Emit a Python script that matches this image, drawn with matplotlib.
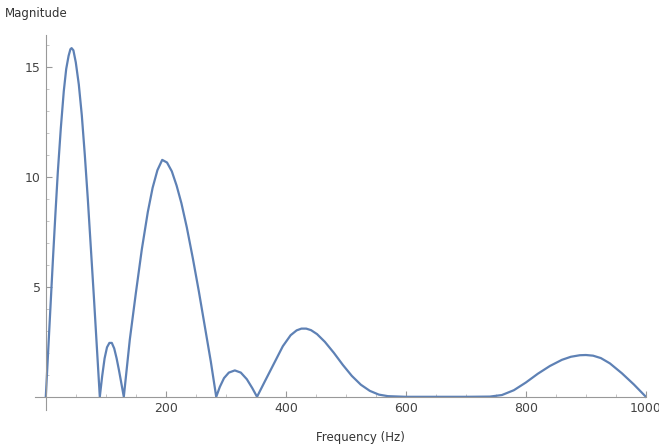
import matplotlib.pyplot as plt

# Magnitude spectrum, values
freq = [0, 4, 8, 12, 16, 20, 25, 30, 34, 38, 41, 43, 46, 50, 55, 60, 65, 70, 75, 80, 85, 90,
        94, 98, 102, 106, 110, 114, 118, 122, 126, 130,
        140, 150, 160, 170, 178, 186, 194, 202, 210, 218, 226, 235, 245, 255, 265, 275, 284,
        290, 297, 305, 315, 325, 335, 344, 352,
        365, 380, 395, 408, 418, 426, 434, 442, 452, 465, 480, 495, 510, 525, 540, 555, 570,
        600, 650, 700, 740,
        760, 780, 800, 820, 840, 860, 875, 890, 900, 912, 925, 940, 960, 980, 1000]
magnitude = [0, 2.1, 4.2, 6.3, 8.3, 10.2, 12.2, 13.9, 14.9, 15.5, 15.8, 15.85, 15.75, 15.2, 14.2, 12.8, 11.0, 9.0, 6.8, 4.6, 2.3, 0,
             0.95, 1.75, 2.25, 2.45, 2.45, 2.2, 1.75, 1.2, 0.6, 0,
             2.6, 4.7, 6.7, 8.4, 9.5, 10.3, 10.77, 10.65, 10.25, 9.6, 8.8, 7.7, 6.3, 4.8, 3.2, 1.6, 0,
             0.45, 0.85, 1.1, 1.2, 1.1, 0.8, 0.4, 0,
             0.7, 1.5, 2.3, 2.8, 3.02, 3.1, 3.1, 3.03, 2.85, 2.5, 2.0, 1.45, 0.95, 0.55, 0.27, 0.1, 0.03,
             0.0, 0.0, 0.0, 0.01,
             0.08, 0.3, 0.65, 1.05, 1.4, 1.68, 1.82, 1.89, 1.9, 1.87, 1.76, 1.52, 1.07, 0.56, 0]

x_ticks = [200, 400, 600, 800, 1000]
y_ticks = [5, 10, 15]

fig = plt.figure(figsize=(6.59, 4.46), dpi=100)
ax = fig.add_axes([0.0531, 0.0807, 0.927, 0.841])

ax.plot(freq, magnitude, color='#5E81B5', linewidth=1.6, solid_joinstyle='round')

ax.set_xlim(-18, 1000)
ax.set_ylim(-0.6, 16.45)

# Mathematica-like axes crossing at the origin
for side in ['top', 'right']:
    ax.spines[side].set_visible(False)
ax.spines['left'].set_position(('data', 0))
ax.spines['bottom'].set_position(('data', 0))
for side in ['left', 'bottom']:
    ax.spines[side].set_color('#999999')
    ax.spines[side].set_linewidth(0.8)

ax.set_xticks(x_ticks)
ax.set_yticks(y_ticks)
ax.set_xticks(range(0, 1001, 50), minor=True)
ax.set_yticks([v * 1.0 for v in range(0, 17)], minor=True)
ax.tick_params(which='major', direction='in', length=4, color='#999999',
               labelsize=9, labelcolor='#444444')
ax.tick_params(which='minor', direction='in', length=2, color='#bbbbbb')

fig.text(5 / 659, 1 - 13 / 446, 'Magnitude', fontsize=8.5, color='#333333',
         ha='left', va='center')
fig.text(360 / 659, 1 - 437 / 446, 'Frequency (Hz)', fontsize=8.5, color='#333333',
         ha='center', va='center')

fig.savefig('out.png', dpi=100)
